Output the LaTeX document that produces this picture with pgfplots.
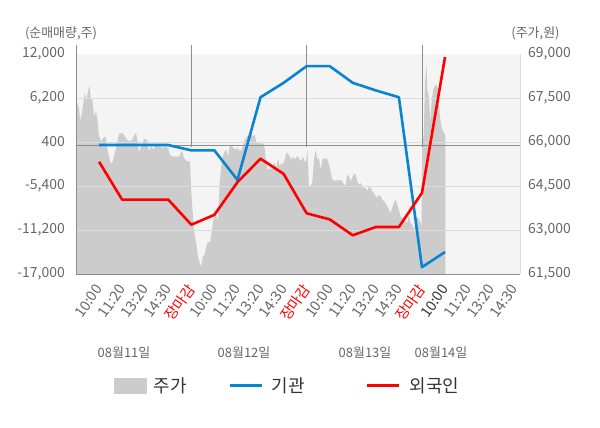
\documentclass[border=0pt]{standalone}
\usepackage{fontspec}
\setmainfont{Noto Sans CJK KR}
\usepackage{pgfplots}
\usepackage{pgfplotstable}
\pgfplotsset{compat=1.18}
\definecolor{areagray}{HTML}{CCCCCC}
\definecolor{bggray}{HTML}{F4F4F4}
\definecolor{gridgray}{HTML}{DDDDDD}
\definecolor{linegray}{HTML}{8C8C8C}
\definecolor{txtgray}{HTML}{666666}
\definecolor{legtxt}{HTML}{333333}
\definecolor{instblue}{HTML}{0A84D0}
\definecolor{forred}{HTML}{FF0000}

\pgfplotstableread{
u price
0.00 66870
0.06 67330
0.13 67160
0.20 66700
0.32 67330
0.38 67670
0.46 67440
0.52 67720
0.58 67920
0.64 67500
0.71 67440
0.78 66870
0.87 67040
0.92 66820
1.00 66190
1.10 66020
1.18 66140
1.29 66190
1.36 65740
1.50 65280
1.57 65280
1.65 65510
1.75 65850
1.86 66250
1.96 66310
2.08 66250
2.20 66080
2.30 66020
2.44 66080
2.54 66250
2.60 66310
2.66 66080
2.73 65630
2.80 65800
2.87 65910
2.95 66100
3.03 66100
3.09 66020
3.16 65680
3.26 65850
3.38 65740
3.45 65910
3.52 65850
3.64 65850
3.74 65800
3.89 65850
3.99 65800
4.07 65570
4.17 65510
4.32 65510
4.46 65490
4.54 65630
4.61 65680
4.68 65450
4.82 65340
4.94 65340
5.00 64260
5.11 63010
5.21 62560
5.29 62100
5.36 61880
5.43 61760
5.50 62100
5.58 62160
5.65 62440
5.72 62610
5.80 62560
5.86 62780
5.94 63240
6.01 63520
6.08 63520
6.16 63290
6.23 64600
6.30 65230
6.37 65510
6.44 65680
6.51 65740
6.59 65510
6.66 65850
6.73 65910
6.81 65800
6.88 65760
6.95 65740
7.02 65800
7.10 65680
7.17 65740
7.24 65850
7.31 66080
7.38 66140
7.46 66250
7.53 66170
7.60 66310
7.67 66190
7.75 66250
7.82 65990
7.89 65970
7.96 65990
8.03 65910
8.11 65970
8.18 65800
8.25 65230
8.32 65060
8.40 65110
8.47 65060
8.54 65230
8.61 65280
8.68 65110
8.76 65450
8.83 65170
8.90 65280
8.97 65230
9.05 65400
9.12 65630
9.19 65600
9.26 65510
9.33 65400
9.41 65510
9.48 65400
9.55 65490
9.62 65510
9.70 65400
9.77 65340
9.84 65510
9.91 65340
9.98 65340
10.03 65740
10.10 64490
10.17 64510
10.24 64600
10.32 65400
10.39 65740
10.46 65400
10.53 65450
10.61 65060
10.68 65400
10.75 65450
10.82 65400
10.89 65450
10.97 65230
11.04 65000
11.11 64710
11.18 64710
11.26 64660
11.33 64710
11.40 64680
11.47 64710
11.54 64660
11.62 64540
11.69 64540
11.76 64890
11.83 64830
11.91 64660
11.98 64770
12.05 64920
12.12 64890
12.19 64660
12.27 64540
12.34 64600
12.41 64490
12.48 64430
12.56 64430
12.63 64320
12.70 64490
12.77 64430
12.84 64320
12.92 64260
12.99 64150
13.06 64090
13.13 64200
13.21 64150
13.28 64030
13.35 63980
13.42 63920
13.49 63800
13.57 63690
13.64 63580
13.71 63750
13.78 63920
13.86 64030
13.93 63860
14.00 63690
14.07 63460
14.14 63410
14.22 63350
14.29 63290
14.36 63240
14.43 63520
14.50 63240
14.58 63180
14.65 63010
14.72 63240
14.79 63460
14.87 63350
14.94 63240
14.98 63120
15.01 65740
15.08 66310
15.13 68010
15.20 68640
15.23 67780
15.30 67550
15.34 66990
15.37 66650
15.42 67440
15.49 67780
15.55 67900
15.60 67950
15.66 67900
15.70 67780
15.73 67440
15.78 66870
15.81 66700
15.88 66420
15.95 66310
16.01 66250
}\pricetable

\pgfplotstableread{
t inst
1 0
2 0
3 0
4 0
5 -700
6 -700
7 -4600
8 6300
9 8200
10 10400
11 10400
12 8200
13 7200
14 6300
15 -16100
16 -14100
}\insttable

\pgfplotstableread{
t foreign
1 -2200
2 -7200
3 -7200
4 -7200
5 -10500
6 -9200
7 -4900
8 -1800
9 -3800
10 -9000
11 -9800
12 -11900
13 -10800
14 -10800
15 -6300
16 11600
}\foreigntable

\begin{document}
\begin{tikzpicture}
\path[use as bounding box] (0bp,0bp) rectangle (600bp,-428bp);

% price axis (right)
\begin{axis}[
  at={(76bp,-274bp)}, anchor=south west,
  width=444bp, height=220bp, scale only axis,
  xmin=0, xmax=19.25, ymin=61500, ymax=69000,
  scaled y ticks=false,
  axis background/.style={fill=bggray},
  hide x axis,
  axis y line*=right,
  y axis line style={gridgray, -, line width=0.8bp},
  ytick={61500,63000,64500,66000,67500,69000},
  yticklabels={{61,500},{63,000},{64,500},{66,000},{67,500},{69,000}},
  major tick length=0pt,
  yticklabel style={font=\fontsize{14}{16}\selectfont, text=txtgray, inner sep=0pt, xshift=8bp},
]
\addplot[fill=areagray, draw=none] table[x=u, y=price]{\pricetable} \closedcycle;
\end{axis}

% net volume axis (left)
\begin{axis}[
  at={(76bp,-274bp)}, anchor=south west,
  width=444bp, height=220bp, scale only axis,
  xmin=0, xmax=19.25, ymin=-17000, ymax=12000,
  scaled y ticks=false,
  axis x line*=bottom, axis y line*=left,
  axis line style={linegray, -, line width=0.8bp},
  ytick={-11200,-5400,400,6200},
  yticklabels={{-11,200},{-5,400},{400},{6,200}},
  extra y ticks={-17000,12000},
  extra y tick labels={{-17,000},{12,000}},
  extra y tick style={grid=none},
  ymajorgrids, grid style={gridgray, line width=0.8bp},
  xtick={1,...,19},
  xticklabels={10:00,11:20,13:20,14:30,{\textcolor{forred}{장마감}},
               10:00,11:20,13:20,14:30,{\textcolor{forred}{장마감}},
               10:00,11:20,13:20,14:30,{\textcolor{forred}{장마감}},
               {\textcolor{legtxt}{10:00}},11:20,13:20,14:30},
  x tick label style={font=\fontsize{14.5}{16}\selectfont, text=txtgray, inner sep=0pt, yshift=-12bp, rotate=55, anchor=east},
  major tick length=0pt,
  yticklabel style={font=\fontsize{14}{16}\selectfont, text=txtgray, inner sep=0pt, xshift=-11bp},
  clip=false,
  legend columns=3,
  legend style={at={(0.0856,-0.509)}, anchor=west, draw=none, fill=none,
    font=\fontsize{18}{20}\selectfont, text=legtxt, inner sep=0pt,
    nodes={inner sep=0pt},
    /tikz/column 1/.style={column sep=7bp},
    /tikz/column 2/.style={column sep=42bp},
    /tikz/column 3/.style={column sep=8bp},
    /tikz/column 4/.style={column sep=61bp},
    /tikz/column 5/.style={column sep=9bp}},
]
\addplot[linegray, line width=0.8bp, forget plot] coordinates {(0,0) (19.25,0)};
\draw[linegray, line width=0.8bp] (axis cs:0,-17000) ++(0,-2bp) -- ([yshift=9bp]axis cs:0,12000);
\draw[linegray, line width=0.8bp] (axis cs:5,-17000) ++(0,-2bp) -- ([yshift=9bp]axis cs:5,12000);
\draw[linegray, line width=0.8bp] (axis cs:10,-17000) ++(0,-2bp) -- ([yshift=9bp]axis cs:10,12000);
\draw[linegray, line width=0.8bp] (axis cs:15,-17000) ++(0,-2bp) -- ([yshift=9bp]axis cs:15,12000);

\addlegendimage{legend image code/.code={\fill[areagray] (0bp,-7.5bp) rectangle (32bp,7.5bp);}}
\addlegendentry{주가}
\addplot[instblue, line width=2.6bp, line join=round,
  legend image code/.code={\draw[instblue, line width=3bp] (0bp,0bp) -- (32bp,0bp);}]
  table[x=t, y=inst]{\insttable};
\addlegendentry{기관}
\addplot[forred, line width=2.6bp, line join=round,
  legend image code/.code={\draw[forred, line width=3bp] (0bp,0bp) -- (32bp,0bp);}]
  table[x=t, y=foreign]{\foreigntable};
\addlegendentry{외국인}
\end{axis}

\node[font=\fontsize{13}{15}\selectfont, text=txtgray] at (61bp,-33bp) {(순매매량,주)};
\node[font=\fontsize{13}{15}\selectfont, text=txtgray] at (535.5bp,-33bp) {(주가,원)};
\node[font=\fontsize{13}{15}\selectfont, text=txtgray] at (124bp,-353bp) {08월11일};
\node[font=\fontsize{13}{15}\selectfont, text=txtgray] at (244bp,-353bp) {08월12일};
\node[font=\fontsize{13}{15}\selectfont, text=txtgray] at (365bp,-353bp) {08월13일};
\node[font=\fontsize{13}{15}\selectfont, text=txtgray] at (441bp,-353bp) {08월14일};
\end{tikzpicture}
\end{document}
